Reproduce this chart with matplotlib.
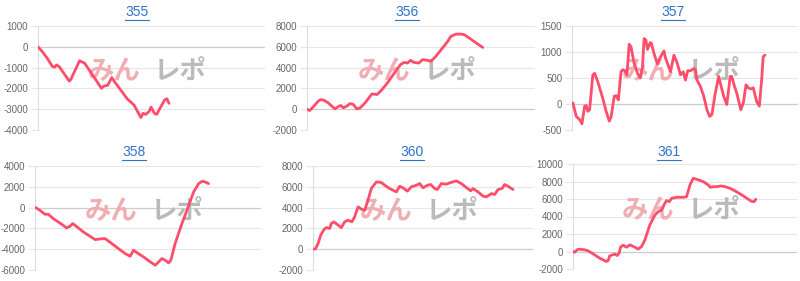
import matplotlib
matplotlib.use("Agg")
import matplotlib.pyplot as plt
from matplotlib.lines import Line2D

plt.rcParams['font.family'] = ['Liberation Sans', 'DejaVu Sans']

titles = ["355", "356", "357", "358", "360", "361"]

x355 = [0, 1.8, 4.0, 6.3, 7.3, 8.2, 9.3, 13.8, 14.5, 18.3, 19.8, 20.5, 28.0, 28.8, 30.7, 32.5, 34.0,
        39.3, 40.8, 42.3, 45.3, 46.3, 47.5, 49.0, 49.8, 51.3, 52.3, 53.5, 55.8, 56.8, 57.7]
y355 = [0, -220, -540, -940, -980, -870, -950, -1650, -1560, -670, -750, -780, -2000, -1900, -1850, -1480,
        -1720, -2500, -2650, -2800, -3400, -3200, -3250, -3100, -2900, -3200, -3250, -3000, -2550, -2500, -2720]

x356 = [0, 1.2, 2.7, 4.9, 6.0, 7.5, 9.3, 12.2, 14.0, 14.9, 15.9, 17.4, 18.9, 20.4, 21.8, 23.3, 25.5, 27.7,
        28.5, 30.7, 32.9, 35.8, 38.8, 41.0, 42.5, 44.0, 45.4, 46.9, 49.1, 50.6, 52.8, 54.3, 56.5, 59.4,
        61.7, 63.1, 65.3, 67.6, 69.0, 71.2, 74.9, 77.1]
y356 = [0, -130, 220, 770, 930, 860, 610, 30, 290, 350, 130, 290, 540, 450, 30, 130, 610, 1250,
        1470, 1410, 1880, 2680, 3640, 4280, 4500, 4440, 4700, 4500, 4440, 4760, 4700, 4600, 5080, 5880,
        6520, 7000, 7220, 7220, 7160, 6840, 6260, 5940]

x357 = [0.4, 1.9, 3.4, 4.4, 5.6, 6.3, 7.0, 7.8, 9.2, 10.0, 11.4, 13.6, 15.1, 16.5, 17.3, 18.7, 19.5, 20.5,
        21.7, 22.4, 23.4, 24.3, 25.3, 26.1, 27.5, 29.0, 30.2, 31.2, 31.9, 32.7, 33.4, 34.6, 35.1, 36.3,
        37.8, 38.5, 40.0, 40.7, 41.4, 43.6, 45.1, 46.6, 48.0, 49.2, 50.2, 51.2, 52.4, 53.9, 54.6, 55.3,
        56.8, 58.3, 59.7, 60.9, 61.9, 63.4, 64.9, 65.6, 67.1, 68.5, 70.0, 70.7, 71.7, 72.9, 74.7, 75.8,
        77.0, 78.0, 79.1, 80.2, 81.7, 82.9, 83.9, 84.6, 85.4]
y357 = [20, -240, -300, -380, -40, -30, -140, -110, 560, 590, 430, 110, -140, -330, -250, 150, 160, 80,
        620, 660, 640, 560, 1150, 1100, 780, 590, 500, 720, 1260, 1230, 1050, 1180, 1170, 970,
        770, 850, 970, 1020, 880, 620, 940, 780, 560, 620, 460, 640, 640, 680, 660, 460,
        340, 150, -110, -240, -200, 210, 530, 410, 150, -10, 530, 530, 370, 210, -110, 20,
        370, 310, 290, 310, 50, -40, 460, 910, 940]

x358 = [0.3, 2.2, 4.4, 5.9, 8.1, 11.8, 14.0, 15.5, 16.7, 17.7, 21.4, 26.6, 28.8, 31.0, 34.0, 36.9, 39.9,
        42.1, 43.6, 45.1, 48.0, 51.0, 53.2, 54.7, 56.1, 57.6, 59.1, 60.1, 62.0, 65.0, 67.2, 70.2, 72.4,
        73.9, 75.3, 76.8]
y358 = [0, -260, -640, -640, -1060, -1600, -1960, -1790, -1540, -1700, -2340, -3080, -3010, -2980, -3460,
        -3940, -4420, -4680, -4100, -4330, -4740, -5220, -5540, -5220, -4900, -5060, -5320, -5060, -3460,
        -1540, -260, 1510, 2310, 2530, 2470, 2310]

x360 = [0, 1.1, 2.3, 3.5, 5.0, 6.1, 7.6, 8.3, 9.5, 11.4, 12.9, 14.4, 15.9, 17.7, 18.9, 20.5, 22.0, 23.5,
        25.0, 26.5, 28.8, 31.1, 32.6, 34.8, 36.4, 37.9, 39.4, 40.9, 42.9, 44.7, 47.0, 48.5, 50.0, 52.0,
        53.5, 55.3, 56.5, 58.3, 60.6, 62.1, 63.6, 65.2, 67.4, 69.7, 71.7, 72.7, 75.0, 77.3, 78.8, 81.1,
        82.6, 84.1, 85.9, 87.1, 88.6, 90.9]
y360 = [0, 30, 540, 1350, 1890, 2080, 1990, 2470, 2630, 2310, 2080, 2630, 2790, 2630, 3110, 4070, 3850,
        3750, 4710, 5830, 6470, 6410, 6150, 5830, 5670, 5510, 6060, 5900, 5580, 6000, 6150, 6310, 5900,
        6150, 6220, 5830, 5740, 6310, 6250, 6380, 6470, 6570, 6310, 5930, 5610, 5830, 5510, 5100, 5030,
        5350, 5260, 5740, 5830, 6220, 6060, 5740]

x361 = [0, 0.7, 1.8, 2.7, 5.2, 6.7, 9.0, 11.9, 14.9, 15.7, 16.4, 18.7, 19.7, 20.6, 21.2, 22.4, 23.9, 25.4,
        27.6, 29.1, 30.6, 32.1, 34.3, 36.6, 38.1, 39.6, 41.0, 41.8, 43.0, 44.0, 46.3, 48.5, 50.0, 50.7,
        52.2, 53.7, 55.2, 58.2, 60.4, 61.2, 62.7, 64.2, 66.0, 67.9, 70.1, 72.4, 75.4, 77.6, 79.9, 80.9, 81.6]
y361 = [0, -80, 190, 270, 190, 80, -270, -760, -1140, -1030, -490, -300, -460, -190, 490, 720, 490, 760,
        490, 270, 570, 1330, 3040, 4180, 4560, 4750, 5510, 5820, 5700, 6080, 6200, 6200, 6200, 6270,
        7600, 8370, 8250, 7980, 7600, 7340, 7410, 7410, 7490, 7410, 7220, 6920, 6460, 6080, 5700, 5700, 5970]

ticks355 = [-4000, -3000, -2000, -1000, 0, 1000]
ticks356 = [-2000, 0, 2000, 4000, 6000, 8000]
ticks357 = [-500, 0, 500, 1000, 1500]
ticks358 = [-6000, -4000, -2000, 0, 2000, 4000]
ticks360 = [-2000, 0, 2000, 4000, 6000, 8000]
ticks361 = [-2000, 0, 2000, 4000, 6000, 8000, 10000]

watermark_parts = ["みん", "レポ"]

series = [(x355, y355, ticks355), (x356, y356, ticks356), (x357, y357, ticks357),
          (x358, y358, ticks358), (x360, y360, ticks360), (x361, y361, ticks361)]

W, H = 800, 281
fig = plt.figure(figsize=(W / 100, H / 100), dpi=100)

# plot-area boxes in pixels: left, right, top, bottom
boxes = [(38, 265, 26, 130), (307, 535, 26, 130), (572, 798, 26, 130),
         (35, 261, 166, 270), (313, 533, 166, 270), (573, 797, 164, 269)]
title_pos = [(137, 12), (407, 12), (673, 12), (134, 152), (412, 152), (669, 152)]
wm_offsets = [-37, 29]
wm_colors = ['#f0aeb3', '#bababa']

LINE = '#ff4d6b'
GRID = '#e6e6e6'
titles_art = []
for (xs, ys, ticks), (l, r, t, b), title, (tx, ty) in zip(series, boxes, titles, title_pos):
    ax = fig.add_axes([l / W, 1 - b / H, (r - l) / W, (b - t) / H])
    ax.set_xlim(0, 100)
    ax.set_ylim(ticks[0], ticks[-1])
    ax.set_yticks(ticks)
    ax.set_yticklabels([str(v) for v in ticks])
    ax.set_xticks([])
    for s in ['top', 'right', 'bottom']:
        ax.spines[s].set_visible(False)
    ax.spines['left'].set_color('#dddddd')
    ax.spines['left'].set_linewidth(0.8)
    ax.tick_params(axis='y', length=5, width=0.8, color=GRID, labelsize=7, labelcolor='#666666', pad=2)
    for v in ticks:
        ax.axhline(v, color='#cccccc' if v == 0 else GRID, lw=0.9 if v == 0 else 0.8, zorder=0)
    ax.set_facecolor('none')
    # watermark
    for part, off, col in zip(watermark_parts, wm_offsets, wm_colors):
        ax.text(0.5 + off / (r - l), 0.56, part, transform=ax.transAxes, ha='center', va='center',
                fontsize=19, fontweight='bold', color=col, family=['Noto Sans CJK JP'], zorder=1)
    ax.plot(xs, ys, color=LINE, lw=2.0, solid_joinstyle='round', solid_capstyle='round', zorder=3)
    tt = fig.text(tx / W, 1 - ty / H, title, ha='center', va='center', fontsize=10, color='#2f72c9')
    titles_art.append(tt)

fig.canvas.draw()
renderer = fig.canvas.get_renderer()
for tt in titles_art:
    bb = tt.get_window_extent(renderer)
    yline = bb.y0 - 0.5
    fig.add_artist(Line2D([bb.x0 / W, bb.x1 / W], [yline / H, yline / H], transform=fig.transFigure,
                          color='#2f72c9', lw=0.8))

fig.savefig("out.png", dpi=100)
